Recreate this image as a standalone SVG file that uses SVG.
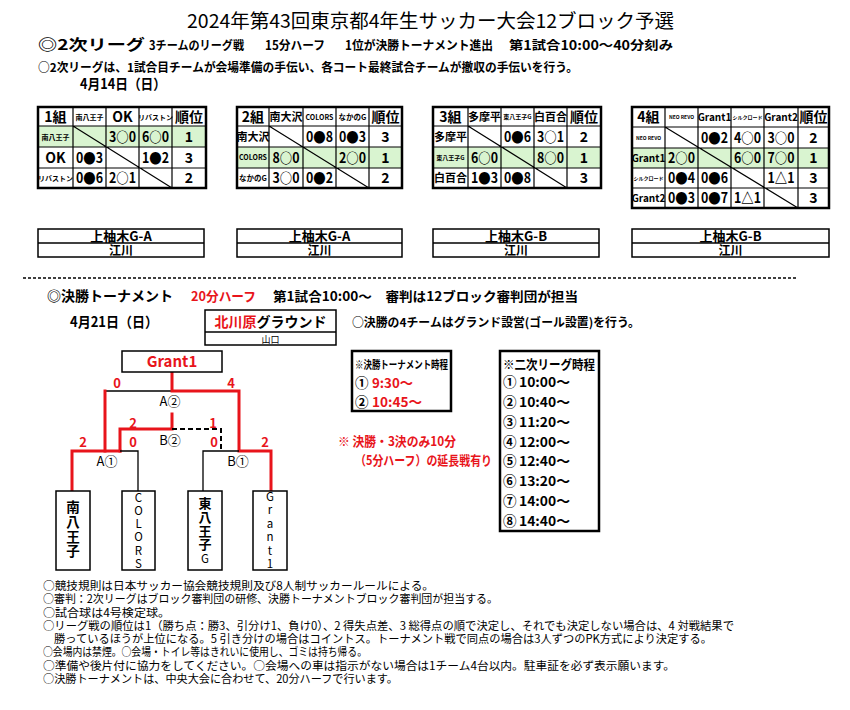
<svg xmlns="http://www.w3.org/2000/svg" width="850" height="710" viewBox="0 0 850 710">
<style>
text{font-family:"Noto Sans CJK JP","Liberation Sans",sans-serif;fill:#000}
.b{font-weight:bold}
.c{font-weight:bold;text-anchor:middle}
.n{font-weight:bold;font-size:14px;text-anchor:middle}
.red{fill:#e8141b}
.grn{fill:#d9f4d0}
.ob{fill:none;stroke:#000;stroke-width:2.5}
.il{stroke:#000;stroke-width:1.2;fill:none}
.vb{fill:#fff;stroke:#000;stroke-width:1.5}
.rl{stroke:#e8141b;stroke-width:3;fill:none;stroke-linecap:square}
.bl{stroke:#000;stroke-width:1.3;fill:none}
.dl{stroke:#000;stroke-width:2;fill:none;stroke-dasharray:5 3}
.lb{font-weight:bold;font-size:13px;fill:#e8141b;text-anchor:middle}
.ml{text-anchor:middle}
.ft{font-size:11.5px}
.sb{fill:#fff;stroke:#000;stroke-width:2.5}
</style>
<rect width="850" height="710" fill="#fff"/>

<g id="header">
<text x="187" y="28" font-size="19" textLength="487" lengthAdjust="spacingAndGlyphs">2024年第43回東京都4年生サッカー大会12ブロック予選</text>
<text class="b" x="38" y="50" font-size="15" textLength="107" lengthAdjust="spacingAndGlyphs">◎2次リーグ</text>
<text class="b" x="149" y="50" font-size="12.5" textLength="95" lengthAdjust="spacingAndGlyphs">3チームのリーグ戦</text>
<text class="b" x="265" y="50" font-size="12.5" textLength="60" lengthAdjust="spacingAndGlyphs">15分ハーフ</text>
<text class="b" x="345" y="50" font-size="12.5" textLength="148" lengthAdjust="spacingAndGlyphs">1位が決勝トーナメント進出</text>
<text class="b" x="509" y="50" font-size="12.5" textLength="164" lengthAdjust="spacingAndGlyphs">第1試合10:00～40分刻み</text>
<text class="b" x="38" y="72" font-size="12" textLength="540" lengthAdjust="spacingAndGlyphs">○2次リーグは、1試合目チームが会場準備の手伝い、各コート最終試合チームが撤収の手伝いを行う。</text>
<text class="b" x="80" y="89" font-size="14" textLength="86" lengthAdjust="spacingAndGlyphs">4月14日（日）</text>
</g>

<g id="table1">
<rect class="grn" x="38" y="126" width="168" height="21"/>
<path class="il" d="M73 107V188M106 107V188M139 107V188M172 107V188M38 126H206M38 147H206M38 168H206M73 126L172 188"/>
<rect class="ob" x="38" y="107" width="168" height="81"/>
<text class="n" x="55.5" y="121.5">1組</text>
<text class="c" x="89.5" y="119.5" font-size="7">南八王子</text>
<text class="n" x="122.5" y="121.5">OK</text>
<text class="c" x="155.5" y="119.5" font-size="7">リバストン</text>
<text class="n" x="189" y="121.5">順位</text>
<text class="c" x="55.5" y="139.5" font-size="7">南八王子</text>
<text class="n" x="122.5" y="141.5" textLength="27" lengthAdjust="spacingAndGlyphs">3○0</text>
<text class="n" x="155.5" y="141.5" textLength="27" lengthAdjust="spacingAndGlyphs">6○0</text>
<text class="n" x="189" y="141.5">1</text>
<text class="n" x="55.5" y="162.5">OK</text>
<text class="n" x="89.5" y="162.5" textLength="27" lengthAdjust="spacingAndGlyphs">0●3</text>
<text class="n" x="155.5" y="162.5" textLength="27" lengthAdjust="spacingAndGlyphs">1●2</text>
<text class="n" x="189" y="162.5">3</text>
<text class="c" x="55.5" y="181" font-size="7">リバストン</text>
<text class="n" x="89.5" y="183" textLength="27" lengthAdjust="spacingAndGlyphs">0●6</text>
<text class="n" x="122.5" y="183" textLength="27" lengthAdjust="spacingAndGlyphs">2○1</text>
<text class="n" x="189" y="183">2</text>
</g>

<g id="table2">
<rect class="grn" x="237" y="147" width="165" height="21"/>
<path class="il" d="M269 107V188M303 107V188M336 107V188M369 107V188M237 126H402M237 147H402M237 168H402M269 126L369 188"/>
<rect class="ob" x="237" y="107" width="165" height="81"/>
<text class="n" x="253" y="121.5">2組</text>
<text class="c" x="286" y="120.5" font-size="11">南大沢</text>
<text class="c" x="319.5" y="119.5" font-size="7">COLORS</text>
<text class="c" x="352.5" y="119.5" font-size="7.5">なかのG</text>
<text class="n" x="385.5" y="121.5">順位</text>
<text class="c" x="253" y="141" font-size="11">南大沢</text>
<text class="n" x="319.5" y="141.5" textLength="27" lengthAdjust="spacingAndGlyphs">0●8</text>
<text class="n" x="352.5" y="141.5" textLength="27" lengthAdjust="spacingAndGlyphs">0●3</text>
<text class="n" x="385.5" y="141.5">3</text>
<text class="c" x="253" y="160" font-size="7">COLORS</text>
<text class="n" x="286" y="162.5" textLength="27" lengthAdjust="spacingAndGlyphs">8○0</text>
<text class="n" x="352.5" y="162.5" textLength="27" lengthAdjust="spacingAndGlyphs">2○0</text>
<text class="n" x="385.5" y="162.5">1</text>
<text class="c" x="253" y="181" font-size="7.5">なかのG</text>
<text class="n" x="286" y="183" textLength="27" lengthAdjust="spacingAndGlyphs">3○0</text>
<text class="n" x="319.5" y="183" textLength="27" lengthAdjust="spacingAndGlyphs">0●2</text>
<text class="n" x="385.5" y="183">2</text>
</g>

<g id="table3">
<rect class="grn" x="433" y="147" width="168" height="21"/>
<path class="il" d="M468 107V188M501 107V188M534 107V188M567 107V188M433 126H601M433 147H601M433 168H601M468 126L567 188"/>
<rect class="ob" x="433" y="107" width="168" height="81"/>
<text class="n" x="450.5" y="121.5">3組</text>
<text class="c" x="484.5" y="120.5" font-size="11">多摩平</text>
<text class="c" x="517.5" y="119" font-size="6">東八王子G</text>
<text class="c" x="550.5" y="120.5" font-size="11">白百合</text>
<text class="n" x="584" y="121.5">順位</text>
<text class="c" x="450.5" y="141" font-size="11">多摩平</text>
<text class="n" x="517.5" y="141.5" textLength="27" lengthAdjust="spacingAndGlyphs">0●6</text>
<text class="n" x="550.5" y="141.5" textLength="27" lengthAdjust="spacingAndGlyphs">3○1</text>
<text class="n" x="584" y="141.5">2</text>
<text class="c" x="450.5" y="160" font-size="6">東八王子G</text>
<text class="n" x="484.5" y="162.5" textLength="27" lengthAdjust="spacingAndGlyphs">6○0</text>
<text class="n" x="550.5" y="162.5" textLength="27" lengthAdjust="spacingAndGlyphs">8○0</text>
<text class="n" x="584" y="162.5">1</text>
<text class="c" x="450.5" y="182" font-size="11">白百合</text>
<text class="n" x="484.5" y="183" textLength="27" lengthAdjust="spacingAndGlyphs">1●3</text>
<text class="n" x="517.5" y="183" textLength="27" lengthAdjust="spacingAndGlyphs">0●8</text>
<text class="n" x="584" y="183">3</text>
</g>

<g id="table4">
<rect class="grn" x="632" y="148" width="197" height="20"/>
<path class="il" d="M665 107V208M698 107V208M731 107V208M764 107V208M798 107V208M632 127H829M632 148H829M632 168H829M632 188H829M665 127L798 208"/>
<rect class="ob" x="632" y="107" width="197" height="101"/>
<text class="n" x="648.5" y="122">4組</text>
<text class="c" x="681.5" y="119" font-size="5">NEO REVO</text>
<text class="c" x="714.5" y="121" font-size="10">Grant1</text>
<text class="c" x="747.5" y="119" font-size="5">シルクロード</text>
<text class="c" x="781" y="121" font-size="10">Grant2</text>
<text class="n" x="813.5" y="122">順位</text>
<text class="c" x="648.5" y="139.5" font-size="5">NEO REVO</text>
<text class="n" x="714.5" y="142.5" textLength="27" lengthAdjust="spacingAndGlyphs">0●2</text>
<text class="n" x="747.5" y="142.5" textLength="27" lengthAdjust="spacingAndGlyphs">4○0</text>
<text class="n" x="781" y="142.5" textLength="27" lengthAdjust="spacingAndGlyphs">3○0</text>
<text class="n" x="813.5" y="142.5">2</text>
<text class="c" x="648.5" y="161.5" font-size="10">Grant1</text>
<text class="n" x="681.5" y="163" textLength="27" lengthAdjust="spacingAndGlyphs">2○0</text>
<text class="n" x="747.5" y="163" textLength="27" lengthAdjust="spacingAndGlyphs">6○0</text>
<text class="n" x="781" y="163" textLength="27" lengthAdjust="spacingAndGlyphs">7○0</text>
<text class="n" x="813.5" y="163">1</text>
<text class="c" x="648.5" y="180" font-size="5">シルクロード</text>
<text class="n" x="681.5" y="183" textLength="27" lengthAdjust="spacingAndGlyphs">0●4</text>
<text class="n" x="714.5" y="183" textLength="27" lengthAdjust="spacingAndGlyphs">0●6</text>
<text class="n" x="781" y="183" textLength="27" lengthAdjust="spacingAndGlyphs">1△1</text>
<text class="n" x="813.5" y="183">3</text>
<text class="c" x="648.5" y="201.5" font-size="10">Grant2</text>
<text class="n" x="681.5" y="203" textLength="27" lengthAdjust="spacingAndGlyphs">0●3</text>
<text class="n" x="714.5" y="203" textLength="27" lengthAdjust="spacingAndGlyphs">0●7</text>
<text class="n" x="747.5" y="203" textLength="27" lengthAdjust="spacingAndGlyphs">1△1</text>
<text class="n" x="813.5" y="203">3</text>
</g>

<g id="venue1">
<rect class="vb" x="38" y="229" width="166" height="28"/>
<line class="bl" x1="38" y1="243" x2="204" y2="243"/>
<text class="c" x="121" y="241" font-size="13">上柚木G-A</text>
<text class="c" x="121" y="255" font-size="12">江川</text>
</g>
<g id="venue2">
<rect class="vb" x="237" y="229" width="165" height="28"/>
<line class="bl" x1="237" y1="243" x2="402" y2="243"/>
<text class="c" x="319.5" y="241" font-size="13">上柚木G-A</text>
<text class="c" x="319.5" y="255" font-size="12">江川</text>
</g>
<g id="venue3">
<rect class="vb" x="433" y="229" width="166" height="28"/>
<line class="bl" x1="433" y1="243" x2="599" y2="243"/>
<text class="c" x="516" y="241" font-size="13">上柚木G-B</text>
<text class="c" x="516" y="255" font-size="12">江川</text>
</g>
<g id="venue4">
<rect class="vb" x="632" y="229" width="197" height="28"/>
<line class="bl" x1="632" y1="243" x2="829" y2="243"/>
<text class="c" x="730.5" y="241" font-size="13">上柚木G-B</text>
<text class="c" x="730.5" y="255" font-size="12">江川</text>
</g>

<line x1="23" y1="278" x2="797" y2="278" stroke="#000" stroke-width="1.3" stroke-dasharray="3 2"/>

<g id="final-header">
<text class="b" x="47" y="301" font-size="14" textLength="126" lengthAdjust="spacingAndGlyphs">◎決勝トーナメント</text>
<text class="b red" x="191" y="301" font-size="13" textLength="65" lengthAdjust="spacingAndGlyphs">20分ハーフ</text>
<text class="b" x="273" y="301" font-size="13" textLength="305" lengthAdjust="spacingAndGlyphs">第1試合10:00～　審判は12ブロック審判団が担当</text>
<text class="b" x="70" y="327" font-size="14" textLength="88" lengthAdjust="spacingAndGlyphs">4月21日（日）</text>
<text class="b" x="352" y="327" font-size="12" textLength="288" lengthAdjust="spacingAndGlyphs">○決勝の4チームはグランド設営(ゴール設置)を行う。</text>
</g>

<g id="ground">
<rect class="vb" x="205" y="310" width="131" height="35"/>
<line class="bl" x1="205" y1="332" x2="336" y2="332"/>
<text class="b" x="270.5" y="327" font-size="14" text-anchor="middle"><tspan fill="#e8141b">北川原</tspan>グラウンド</text>
<text x="270.5" y="342.5" font-size="9" text-anchor="middle">山口</text>
</g>

<g id="connectors">
<path class="bl" d="M105 391H172"/>
<path class="rl" d="M172 372V391H239V451H271V491"/>
<path class="rl" d="M105 391V451"/>
<path class="rl" d="M172 414V429H120V451"/>
<path class="dl" d="M172 429H221V451"/>
<path class="rl" d="M72 491V451H120"/>
<path class="bl" d="M120 451H138V491"/>
<path class="bl" d="M239 451H203V491"/>
</g>

<g id="bracket-labels">
<text class="lb" x="117" y="388">0</text>
<text class="lb" x="231" y="388">4</text>
<text class="lb" x="133" y="428">2</text>
<text class="lb" x="213" y="428">1</text>
<text class="lb" x="133" y="447">0</text>
<text class="lb" x="214" y="447">0</text>
<text class="lb" x="83" y="447">2</text>
<text class="lb" x="265" y="447">2</text>
<text class="ml" x="170" y="406" font-size="13">A②</text>
<text class="ml" x="170" y="445" font-size="13">B②</text>
<text class="ml" x="107" y="466" font-size="13">A①</text>
<text class="ml" x="238" y="466" font-size="13">B①</text>
</g>

<g id="winner">
<rect class="vb" x="122" y="351" width="100" height="21"/>
<text class="b red" x="172" y="367" font-size="15" text-anchor="middle">Grant1</text>
</g>

<g id="team-minamihachioji">
<rect class="vb" x="56" y="491" width="34" height="79"/>
<text class="c" x="73" y="512" font-size="13.5">南</text>
<text class="c" x="73" y="527" font-size="13.5">八</text>
<text class="c" x="73" y="542" font-size="13.5">王</text>
<text class="c" x="73" y="556" font-size="13.5">子</text>
</g>
<g id="team-colors">
<rect class="vb" x="122" y="491" width="33" height="79"/>
<text class="ml" x="138.5" y="501.5" font-size="11.5">C</text>
<text class="ml" x="138.5" y="514.5" font-size="11.5">O</text>
<text class="ml" x="138.5" y="527.5" font-size="11.5">L</text>
<text class="ml" x="138.5" y="541" font-size="11.5">O</text>
<text class="ml" x="138.5" y="554.5" font-size="11.5">R</text>
<text class="ml" x="138.5" y="567.5" font-size="11.5">S</text>
</g>
<g id="team-higashihachioji">
<rect class="vb" x="188" y="491" width="34" height="79"/>
<text class="c" x="205" y="508" font-size="13">東</text>
<text class="c" x="205" y="522" font-size="13">八</text>
<text class="c" x="205" y="536" font-size="13">王</text>
<text class="c" x="205" y="549" font-size="13">子</text>
<text class="ml" x="205" y="563" font-size="11.5">G</text>
</g>
<g id="team-grant1">
<rect class="vb" x="253" y="491" width="34" height="79"/>
<text class="ml" x="270" y="500.5" font-size="11.5">G</text>
<text class="ml" x="270" y="514" font-size="11.5">r</text>
<text class="ml" x="270" y="527.5" font-size="11.5">a</text>
<text class="ml" x="270" y="541" font-size="11.5">n</text>
<text class="ml" x="270" y="554.5" font-size="11.5">t</text>
<text class="ml" x="270" y="568" font-size="11.5">1</text>
</g>

<g id="schedule-final">
<rect class="sb" x="352" y="351" width="99" height="60"/>
<text class="b" x="355" y="369" font-size="11" textLength="93" lengthAdjust="spacingAndGlyphs">※決勝トーナメント時程</text>
<text class="b" x="355" y="388" font-size="13.5">①</text>
<text class="b red" x="372" y="388" font-size="13.5" textLength="41" lengthAdjust="spacingAndGlyphs">9:30～</text>
<text class="b" x="355" y="407" font-size="13.5">②</text>
<text class="b red" x="372" y="407" font-size="13.5" textLength="50" lengthAdjust="spacingAndGlyphs">10:45～</text>
</g>

<g id="note">
<text class="b red" x="338" y="446" font-size="13" textLength="118" lengthAdjust="spacingAndGlyphs">※ 決勝・3決のみ10分</text>
<text class="b red" x="355" y="465" font-size="13" textLength="137" lengthAdjust="spacingAndGlyphs">（5分ハーフ）の延長戦有り</text>
</g>

<g id="schedule-league">
<rect class="sb" x="500" y="351" width="99" height="180"/>
<text class="b" x="503" y="369" font-size="13" textLength="92" lengthAdjust="spacingAndGlyphs">※二次リーグ時程</text>
<g class="b" font-size="13.5">
<text x="503" y="387">①</text><text x="519" y="387" textLength="51" lengthAdjust="spacingAndGlyphs">10:00～</text>
<text x="503" y="407">②</text><text x="519" y="407" textLength="51" lengthAdjust="spacingAndGlyphs">10:40～</text>
<text x="503" y="427">③</text><text x="519" y="427" textLength="51" lengthAdjust="spacingAndGlyphs">11:20～</text>
<text x="503" y="447">④</text><text x="519" y="447" textLength="51" lengthAdjust="spacingAndGlyphs">12:00～</text>
<text x="503" y="466">⑤</text><text x="519" y="466" textLength="51" lengthAdjust="spacingAndGlyphs">12:40～</text>
<text x="503" y="486">⑥</text><text x="519" y="486" textLength="51" lengthAdjust="spacingAndGlyphs">13:20～</text>
<text x="503" y="506">⑦</text><text x="519" y="506" textLength="51" lengthAdjust="spacingAndGlyphs">14:00～</text>
<text x="503" y="526">⑧</text><text x="519" y="526" textLength="51" lengthAdjust="spacingAndGlyphs">14:40～</text>
</g>
</g>

<g id="footer">
<text class="ft" x="43" y="590" textLength="391" lengthAdjust="spacingAndGlyphs">○競技規則は日本サッカー協会競技規則及び8人制サッカールールによる。</text>
<text class="ft" x="43" y="603" textLength="455" lengthAdjust="spacingAndGlyphs">○審判：2次リーグはブロック審判団の研修、決勝トーナメントブロック審判団が担当する。</text>
<text class="ft" x="43" y="616.5" textLength="127" lengthAdjust="spacingAndGlyphs">○試合球は4号検定球。</text>
<text class="ft" x="43" y="629.5" textLength="691" lengthAdjust="spacingAndGlyphs">○リーグ戦の順位は1（勝ち点：勝3、引分け1、負け0）、2 得失点差、3 総得点の順で決定し、それでも決定しない場合は、4 対戦結果で</text>
<text class="ft" x="54" y="643" textLength="658" lengthAdjust="spacingAndGlyphs">勝っているほうが上位になる。5 引き分けの場合はコイントス。トーナメント戦で同点の場合は3人ずつのPK方式により決定する。</text>
<text class="ft" x="43" y="656" textLength="324" lengthAdjust="spacingAndGlyphs">○会場内は禁煙。○会場・トイレ等はきれいに使用し、ゴミは持ち帰る。</text>
<text class="ft" x="43" y="669.5" textLength="632" lengthAdjust="spacingAndGlyphs">○準備や後片付に協力をしてください。○会場への車は指示がない場合は1チーム4台以内。駐車証を必ず表示願います。</text>
<text class="ft" x="43" y="683" textLength="355" lengthAdjust="spacingAndGlyphs">○決勝トーナメントは、中央大会に合わせて、20分ハーフで行います。</text>
</g>
</svg>
